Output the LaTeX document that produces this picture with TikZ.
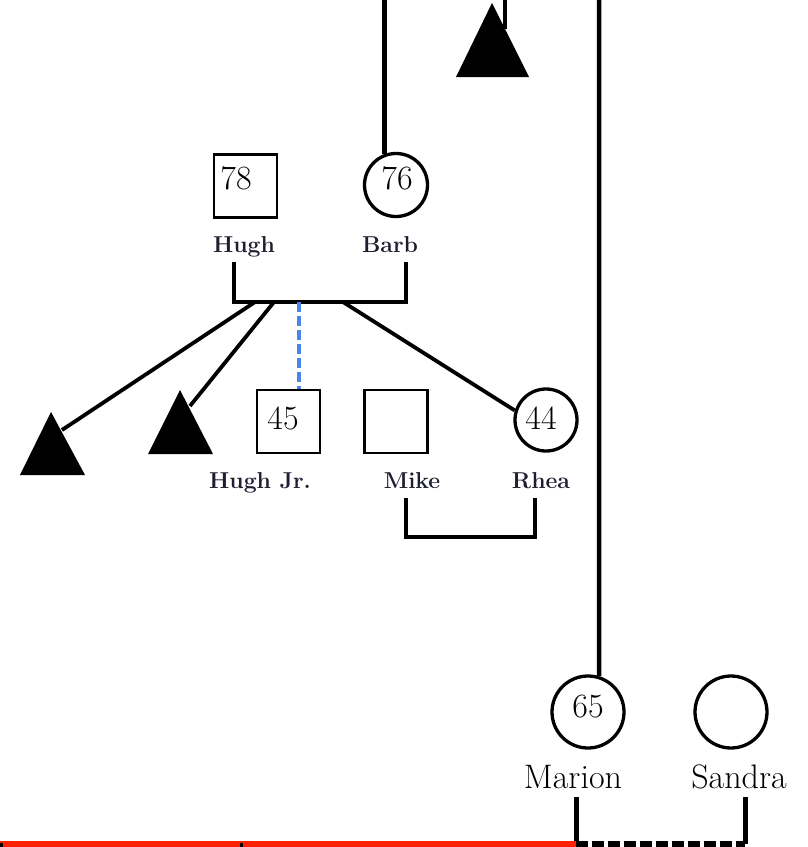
\documentclass[tikz,border=0pt]{standalone}
\usepackage{fontspec}
\definecolor{lblcol}{RGB}{30,30,50}
\definecolor{dashblue}{RGB}{74,134,232}
\definecolor{redline}{RGB}{255,34,0}
\begin{document}
\begin{tikzpicture}[x=1pt,y=-1pt,
  sq/.style={draw, rectangle, line width=2.5pt, minimum size=63pt, inner sep=0pt},
  circ/.style={draw, circle, line width=3.3pt, inner sep=0pt},
  num/.style={font=\fontsize{34}{40}\selectfont, anchor=base, inner sep=0pt},
  lbl/.style={font=\bfseries\fontsize{23}{27}\selectfont, anchor=base, inner sep=0pt, text=lblcol},
  big/.style={font=\fontsize{34}{40}\selectfont, anchor=base, inner sep=0pt},
  rel/.style={line width=4.5pt},
  kid/.style={line width=3.8pt},
  tri/.style={fill=black}]
\useasboundingbox (0,0) rectangle (808,847);
\clip (0,0) rectangle (808,847);

% grandparents' generation (top)
\node[sq] (hugh) at (245.5,186) {};
\node[num] (hughage) at (236,189) {78};
\node[circ, minimum size=63pt] (barb) at (396,185) {};
\node[num] (barbage) at (397,189) {76};
\node[lbl] (hughl) at (244,252) {Hugh};
\node[lbl] (barbl) at (390,252) {Barb};

% children
\node[sq] (hughjr) at (288.5,421.5) {};
\node[num] (hughjrage) at (283,429) {45};
\node[sq] (mike) at (396,421.5) {};
\node[circ, minimum size=62pt] (rhea) at (546,420) {};
\node[num] (rheaage) at (541,429) {44};
\node[lbl] (hughjrl) at (260,488) {Hugh Jr.};
\node[lbl] (mikel) at (412,488) {Mike};
\node[lbl] (rheal) at (541,488) {Rhea};

% Marion & Sandra
\node[circ, minimum size=72pt] (marion) at (588,712) {};
\node[num] (marionage) at (588,717) {65};
\node[circ, minimum size=72pt] (sandra) at (731,712) {};
\node[big] (marionl) at (573,788) {Marion};
\node[big] (sandral) at (739,788) {Sandra};

% triangles
\fill[tri] (492,3) -- (529,77) -- (456,77) -- cycle;
\fill[tri] (51,412) -- (85,475) -- (20,475) -- cycle;
\fill[tri] (180,390) -- (213,454) -- (148,454) -- cycle;

% coordinates
\coordinate (topA) at (385,0);
\coordinate (topB) at (505,0);
\coordinate (topBend) at (505,29);
\coordinate (topC) at (599,0);
\coordinate (hc) at (234,262);
\coordinate (bc) at (406,262);
\coordinate (cline) at (234,302);
\coordinate (k1) at (255,302);
\coordinate (k2) at (274,302);
\coordinate (k3) at (299,302);
\coordinate (k4) at (343,302);
\coordinate (t1) at (62,430);
\coordinate (t2) at (190,406);
\coordinate (mc) at (406,498);
\coordinate (rc) at (535,498);
\coordinate (mrb) at (406,537);
\coordinate (mac) at (576,797);
\coordinate (sac) at (745,797);
\coordinate (mab) at (576,844);
\coordinate (sab) at (745,844);
\coordinate (redstart) at (0,845);

% top connectors
\draw[rel] (topA) -- (barb.110 |- topA) -- (barb.110);
\draw[rel] (topB) -- (topBend);
\draw[rel] (topC) -- (marion.73);

% Hugh & Barb couple
\draw[rel] (hc) |- (bc |- cline) -- (bc);
\draw[kid] (k1) -- (t1);
\draw[kid] (k2) -- (t2);
\draw[line width=3.8pt, dashblue, dash pattern=on 10pt off 4pt] (k3) -- (k3 |- hughjr.north);
\draw[kid] (k4) -- (rhea.163);

% Mike & Rhea
\draw[line width=4pt] (mc) |- (rc |- mrb) -- (rc);

% Marion & Sandra
\draw[line width=5pt] (mac) -- (mab);
\draw[line width=5pt] (sac) -- (sab);
\draw[line width=6pt, dash pattern=on 12pt off 4pt] (mab) -- (sab);

% red line and ticks
\draw[line width=8pt, redline] (redstart) -- (mab |- redstart);
\draw[line width=3pt] (241,843) -- (241,850);
\draw[line width=3pt] (1,843) -- (1,850);
\end{tikzpicture}
\end{document}
